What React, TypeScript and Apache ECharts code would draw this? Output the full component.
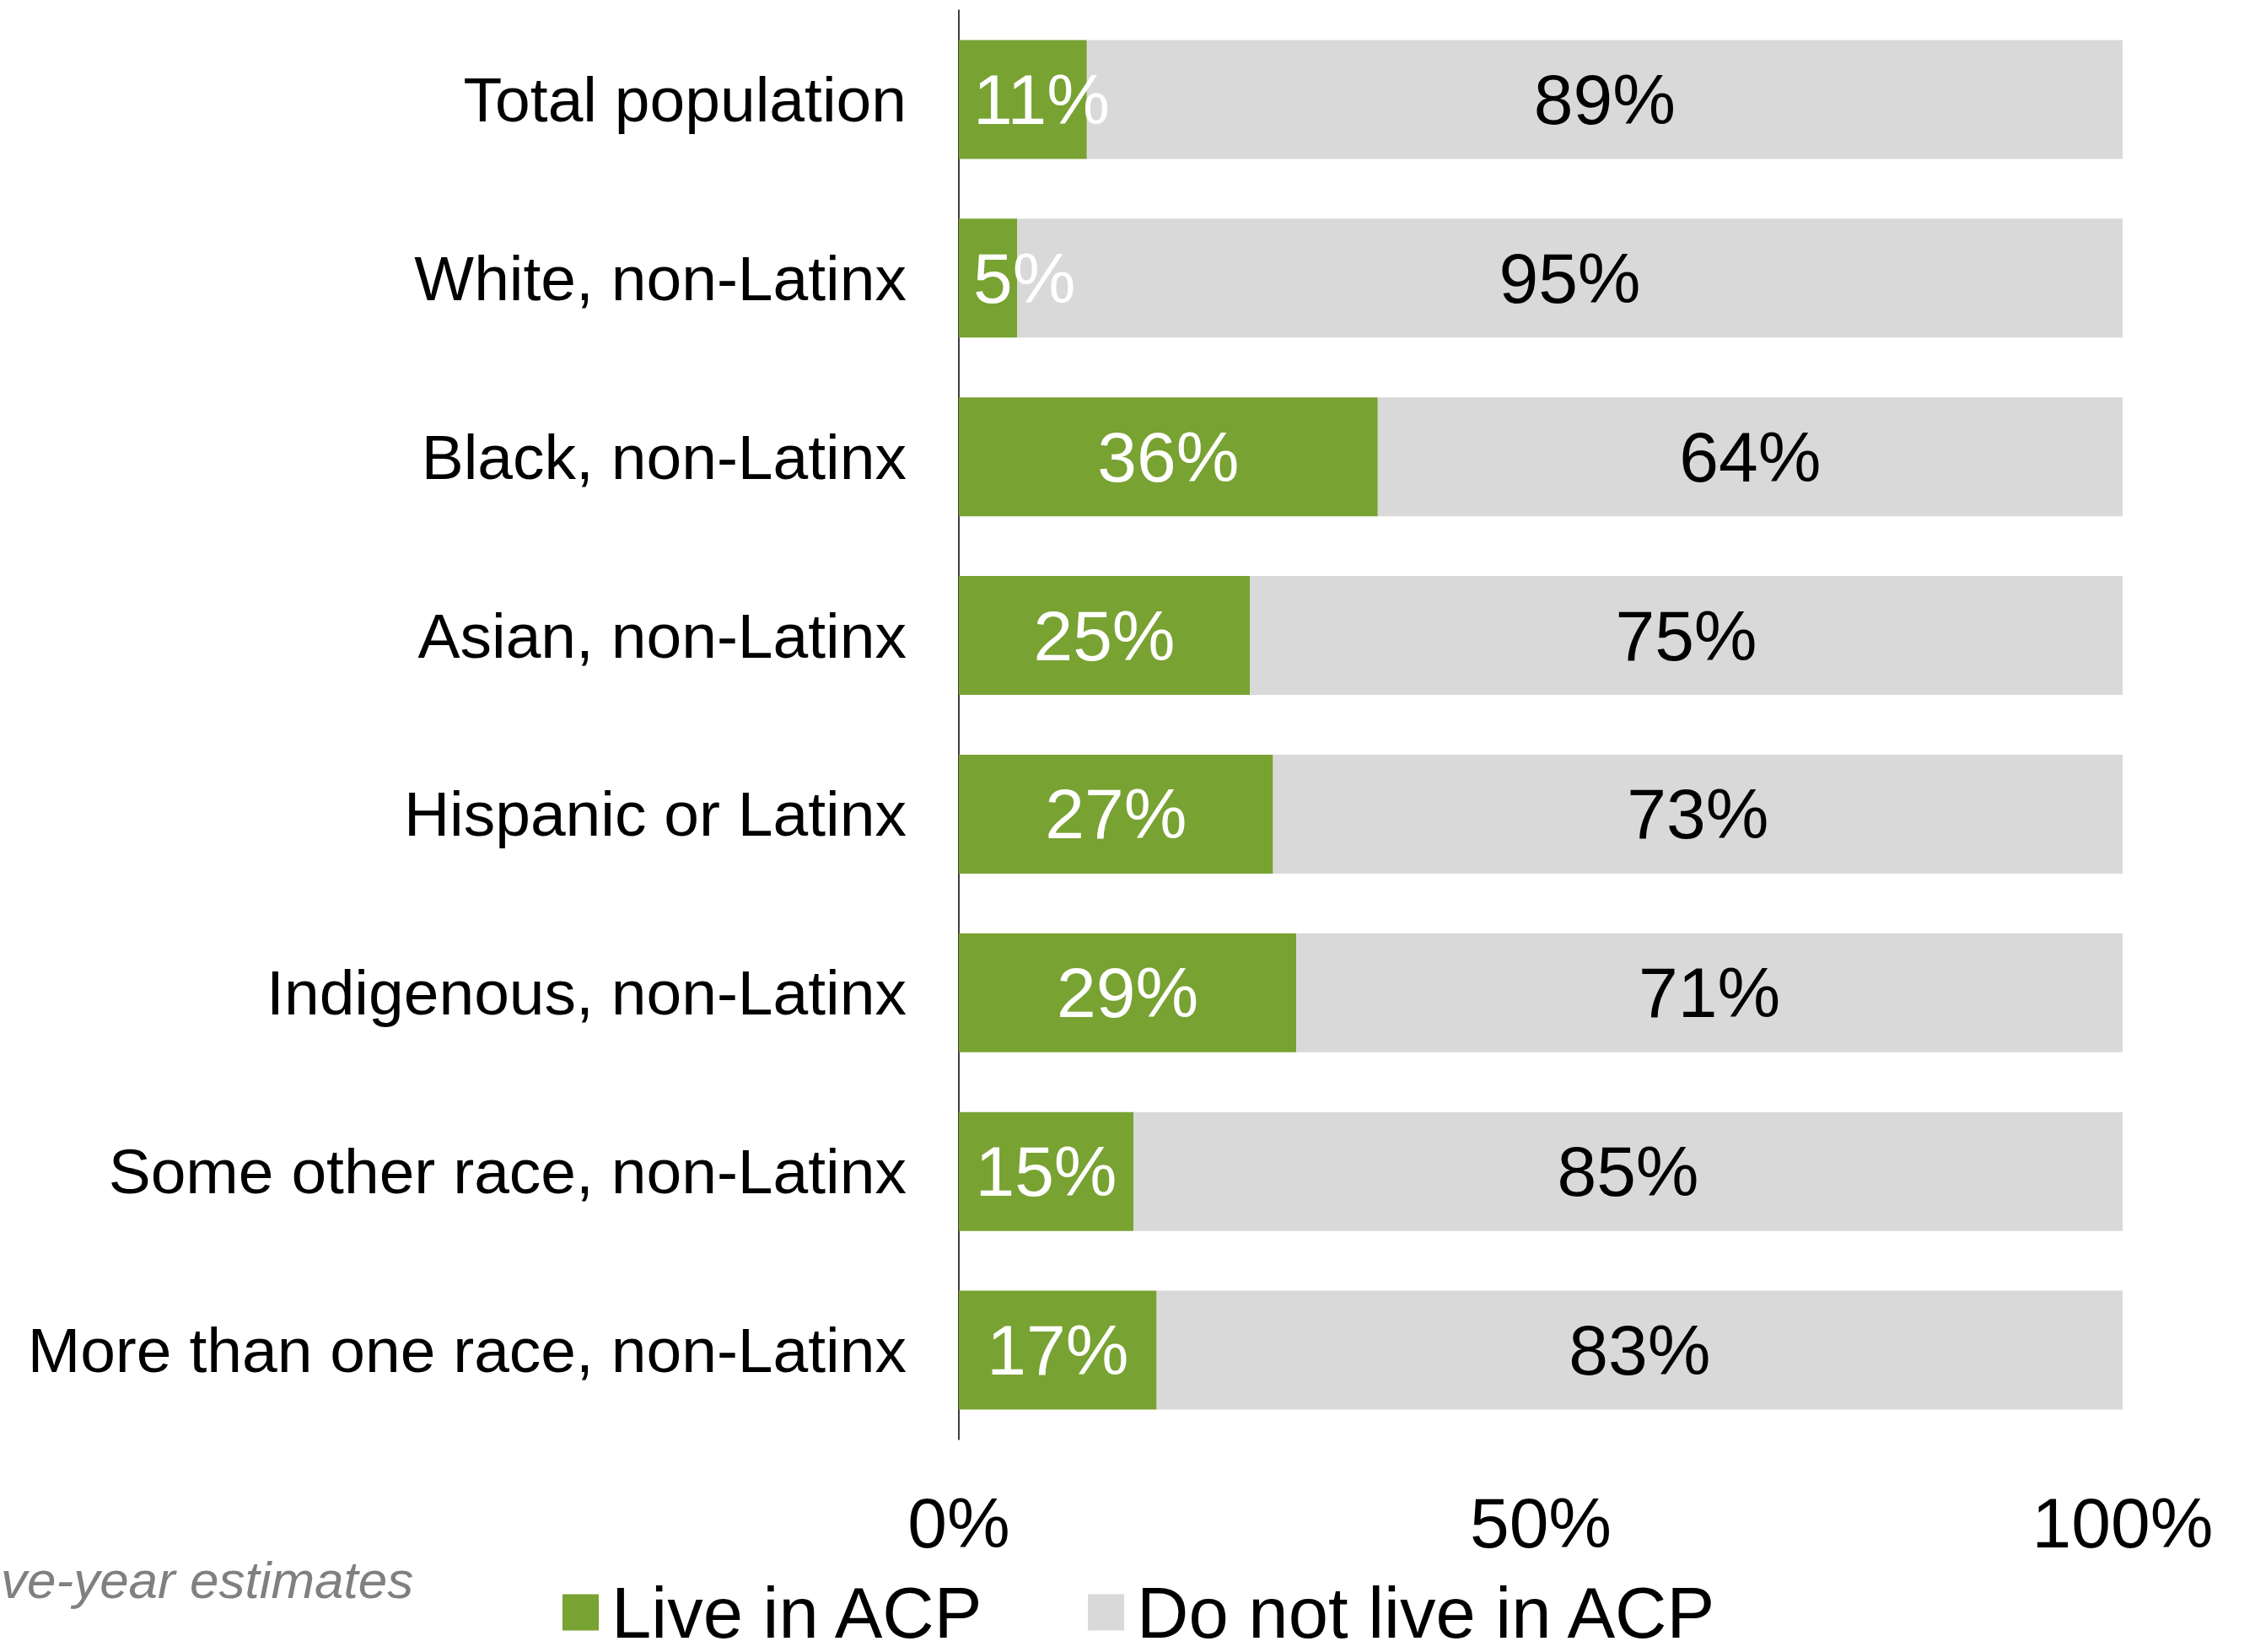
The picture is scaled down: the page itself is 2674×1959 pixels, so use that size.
import React, { useEffect, useRef } from "react";
import * as echarts from "echarts";

const categories = [
  "Total population",
  "White, non-Latinx",
  "Black, non-Latinx",
  "Asian, non-Latinx",
  "Hispanic or Latinx",
  "Indigenous, non-Latinx",
  "Some other race, non-Latinx",
  "More than one race, non-Latinx",
];
const liveInACP = [11, 5, 36, 25, 27, 29, 15, 17];
const notLiveInACP = [89, 95, 64, 75, 73, 71, 85, 83];
const seriesNames = ["Live in ACP", "Do not live in ACP"];
const xTickValues = [0, 50, 100];
const footnote = "ve-year estimates";

const FONT = '"Liberation Sans", Arial, sans-serif';
const GREEN = "#78A232";
const GRAY = "#D9D9D9";

export default function App() {
  const ref = useRef<HTMLDivElement>(null);

  useEffect(() => {
    document.body.style.margin = "0";
    if (!ref.current) return;
    const chart = echarts.init(ref.current, null, { renderer: "svg" });

    const liveData = liveInACP.map((v) =>
      v < 13
        ? { value: v, label: { position: "insideLeft", distance: 17 } }
        : { value: v }
    );

    chart.setOption({
      animation: false,
      backgroundColor: "#ffffff",
      textStyle: { fontFamily: FONT },
      grid: { left: 1137, right: 157, top: 12, bottom: 252, containLabel: false },
      xAxis: {
        type: "value",
        min: xTickValues[0],
        max: xTickValues[xTickValues.length - 1],
        interval: xTickValues[1] - xTickValues[0],
        axisLine: { show: false },
        axisTick: { show: false },
        splitLine: { show: false },
        axisLabel: {
          formatter: "{value}%",
          fontSize: 84,
          color: "#000",
          fontFamily: FONT,
          margin: 57,
        },
      },
      yAxis: {
        type: "category",
        data: categories,
        inverse: true,
        axisLine: { show: true, lineStyle: { color: "#000", width: 1.5 } },
        axisTick: { show: false },
        axisLabel: {
          fontSize: 75,
          color: "#000",
          fontFamily: FONT,
          margin: 62,
        },
      },
      legend: {
        data: seriesNames,
        left: 662,
        top: 1858,
        icon: "rect",
        itemWidth: 43,
        itemHeight: 43,
        itemGap: 121,
        textStyle: {
          fontSize: 85,
          color: "#000",
          fontFamily: FONT,
          lineHeight: 84,
          padding: [0, 0, 14, 10],
        },
      },
      graphic: [
        {
          type: "text",
          x: 1,
          y: 1873,
          style: {
            text: footnote,
            align: "left",
            verticalAlign: "middle",
            fontSize: 62,
            fontStyle: "italic",
            fontFamily: FONT,
            fill: "#808080",
          },
        },
      ],
      series: [
        {
          name: seriesNames[0],
          type: "bar",
          stack: "total",
          data: liveData,
          barCategoryGap: "33.5%",
          itemStyle: { color: GREEN },
          label: {
            show: true,
            position: "inside",
            formatter: "{c}%",
            color: "#fff",
            fontSize: 84,
            fontFamily: FONT,
          },
        },
        {
          name: seriesNames[1],
          type: "bar",
          stack: "total",
          data: notLiveInACP,
          barCategoryGap: "33.5%",
          itemStyle: { color: GRAY },
          label: {
            show: true,
            position: "inside",
            formatter: "{c}%",
            color: "#000",
            fontSize: 84,
            fontFamily: FONT,
          },
        },
      ],
    });

    return () => chart.dispose();
  }, []);

  return (
    <div
      ref={ref}
      style={{ position: "fixed", left: 0, top: 0, width: 2674, height: 1959 }}
    />
  );
}
